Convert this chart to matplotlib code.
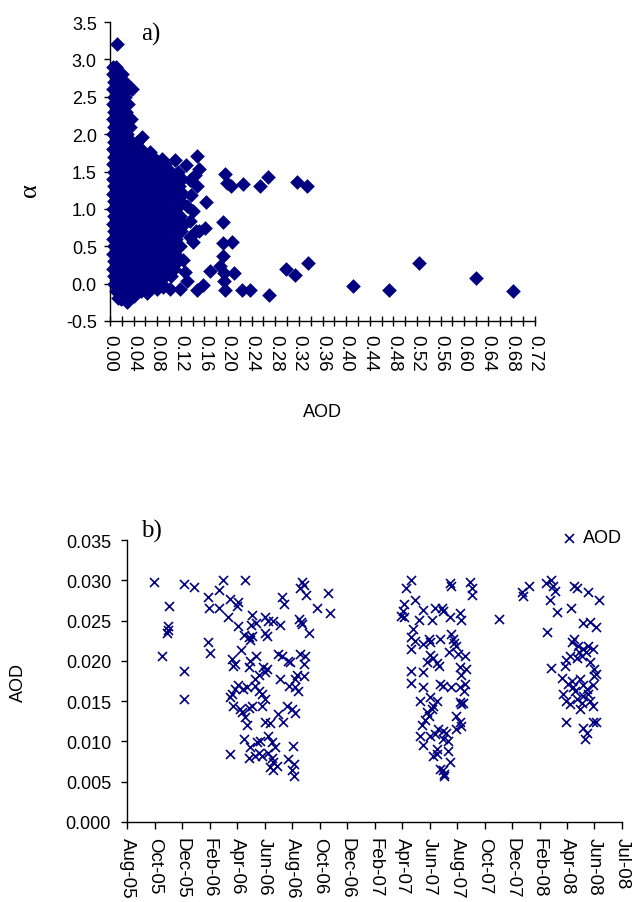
import numpy as np
import pandas as pd
import matplotlib
matplotlib.use("Agg")
import matplotlib.pyplot as plt
import matplotlib.dates as mdates
from matplotlib.ticker import MultipleLocator, FormatStrFormatter

NAVY = "#000080"
plt.rcParams["font.family"] = ["Liberation Sans", "DejaVu Sans"]

# ---------------- a) alpha vs AOD ----------------
# dichter Kern: pro alpha-Stufe die abgelesenen AOD-Werte
core_alpha = [2.9, 2.8, 2.7, 2.6, 2.5, 2.4, 2.3, 2.2, 2.1, 2.0, 1.9, 1.8, 1.7,
              1.6, 1.5, 1.4, 1.3, 1.2, 1.1, 1.0, 0.9, 0.8, 0.7, 0.6, 0.5, 0.4,
              0.3, 0.2, 0.1, 0.0, -0.1, -0.2]
core_aod = [
    [0.005, 0.010],
    [0.005, 0.013, 0.021],
    [0.006, 0.016, 0.026],
    [0.005, 0.013, 0.022, 0.031, 0.037],
    [0.006, 0.016, 0.026],
    [0.005, 0.013, 0.022, 0.031],
    [0.006, 0.016, 0.027],
    [0.005, 0.013, 0.022, 0.031, 0.036],
    [0.006, 0.016, 0.026, 0.034],
    [0.005, 0.013, 0.022, 0.029],
    [0.006, 0.016, 0.027, 0.038, 0.046],
    [0.005, 0.013, 0.022, 0.031, 0.041, 0.052],
    [0.006, 0.016, 0.027, 0.038, 0.049, 0.060, 0.072],
    [0.005, 0.013, 0.022, 0.031, 0.041, 0.052, 0.063, 0.074, 0.084, 0.094],
    [0.006, 0.016, 0.027, 0.038, 0.049, 0.060, 0.071, 0.082, 0.093, 0.104, 0.116],
    [0.005, 0.013, 0.022, 0.031, 0.041, 0.052, 0.063, 0.074, 0.085, 0.096, 0.108, 0.122],
    [0.006, 0.016, 0.027, 0.038, 0.049, 0.060, 0.071, 0.082, 0.093, 0.104, 0.117],
    [0.005, 0.013, 0.022, 0.031, 0.041, 0.052, 0.063, 0.074, 0.085, 0.096, 0.110, 0.124],
    [0.006, 0.016, 0.027, 0.038, 0.049, 0.060, 0.071, 0.082, 0.093, 0.106, 0.119],
    [0.005, 0.013, 0.022, 0.031, 0.041, 0.052, 0.063, 0.074, 0.085, 0.096, 0.112],
    [0.006, 0.016, 0.027, 0.038, 0.049, 0.060, 0.071, 0.082, 0.093, 0.104, 0.118],
    [0.005, 0.013, 0.022, 0.031, 0.041, 0.052, 0.063, 0.074, 0.085, 0.097, 0.110, 0.125],
    [0.006, 0.016, 0.027, 0.038, 0.049, 0.060, 0.071, 0.082, 0.093, 0.106, 0.121],
    [0.005, 0.013, 0.022, 0.031, 0.041, 0.052, 0.063, 0.074, 0.085, 0.097, 0.112],
    [0.006, 0.016, 0.027, 0.038, 0.049, 0.060, 0.071, 0.082, 0.093, 0.105, 0.118],
    [0.005, 0.013, 0.022, 0.031, 0.041, 0.052, 0.063, 0.074, 0.085, 0.097, 0.110],
    [0.006, 0.016, 0.027, 0.038, 0.049, 0.060, 0.071, 0.082, 0.093, 0.105, 0.115],
    [0.005, 0.013, 0.022, 0.031, 0.041, 0.052, 0.063, 0.074, 0.085, 0.097, 0.108],
    [0.006, 0.016, 0.027, 0.038, 0.049, 0.060, 0.071, 0.082, 0.094, 0.104],
    [0.007, 0.015, 0.024, 0.034, 0.045, 0.056, 0.067, 0.078, 0.088],
    [0.010, 0.020, 0.031, 0.042, 0.053],
    [0.018, 0.028],
]

# Einzelpunkte am Rand und Ausreisser
edge_aod = [0.012, 0.054, 0.068, 0.088, 0.110, 0.129, 0.147, 0.150, 0.144,
            0.195, 0.198, 0.205, 0.226, 0.254, 0.267, 0.316, 0.333, 0.163,
            0.141, 0.192, 0.161, 0.150, 0.191, 0.206, 0.140, 0.191, 0.186,
            0.193, 0.210, 0.169, 0.193, 0.195, 0.223, 0.238, 0.270, 0.130,
            0.148, 0.157, 0.119, 0.102, 0.298, 0.314, 0.335, 0.411, 0.473,
            0.523, 0.620, 0.683, 0.136, 0.147, 0.138, 0.130, 0.136, 0.146,
            0.136, 0.124, 0.127, 0.014, 0.028, 0.040, 0.062, 0.080, 0.090]
edge_alpha = [3.20, 1.96, 1.76, 1.67, 1.65, 1.59, 1.71, 1.53, 1.45,
              1.47, 1.35, 1.31, 1.33, 1.30, 1.43, 1.36, 1.30, 1.09,
              0.97, 0.83, 0.75, 0.71, 0.54, 0.56, 0.56, 0.37, 0.24,
              0.14, 0.14, 0.17, 0.03, -0.08, -0.08, -0.08, -0.15, 0.04,
              -0.08, -0.02, -0.07, -0.07, 0.20, 0.12, 0.27, -0.03, -0.08,
              0.27, 0.07, -0.10, 1.38, 1.30, 1.18, 1.04, 0.84, 0.71,
              0.62, 0.31, 0.15, -0.19, -0.24, -0.16, -0.12, -0.07, -0.05]

# ---------------- b) AOD Zeitreihe ----------------
obs_dates = [
    # 2005
    "2005-09-29", "2005-10-17", "2005-11-01", "2005-10-29", "2005-10-30",
    "2005-10-27", "2005-12-04", "2005-12-26", "2005-12-04", "2005-12-04",
    "2006-01-25", "2006-01-27", "2006-01-25", "2006-01-28",
    # 2006
    "2006-02-27", "2006-04-15", "2006-02-18", "2006-03-14", "2006-03-30",
    "2006-03-28", "2006-02-18", "2006-03-10", "2006-03-30", "2006-05-01",
    "2006-05-09", "2006-04-29", "2006-05-29", "2006-06-05", "2006-06-16",
    "2006-07-01", "2006-04-14", "2006-04-23", "2006-04-30", "2006-04-26",
    "2006-05-28", "2006-06-02", "2006-07-04", "2006-07-10", "2006-08-17",
    "2006-08-13", "2006-08-21", "2006-08-26", "2006-09-19", "2006-10-14",
    "2006-10-18", "2006-08-10", "2006-08-16", "2006-08-18", "2006-09-01",
    "2006-04-07", "2006-03-17", "2006-03-25", "2006-03-21", "2006-04-26",
    "2006-05-09", "2006-04-23", "2006-05-25", "2006-06-02", "2006-05-29",
    "2006-05-15", "2006-05-07", "2006-06-27", "2006-07-04", "2006-07-19",
    "2006-07-23", "2006-08-13", "2006-08-24", "2006-08-21", "2006-07-01",
    "2006-08-06", "2006-08-02", "2006-08-21", "2006-07-20", "2006-08-02",
    "2006-08-08", "2006-04-01", "2006-03-25", "2006-03-17", "2006-03-14",
    "2006-04-19", "2006-04-10", "2006-05-07", "2006-05-15", "2006-05-22",
    "2006-05-29", "2006-03-21", "2006-04-05", "2006-04-08", "2006-04-23",
    "2006-05-01", "2006-05-22", "2006-04-15", "2006-04-19", "2006-05-29",
    "2006-06-09", "2006-06-27", "2006-07-08", "2006-07-15", "2006-07-26",
    "2006-08-02", "2006-04-12", "2006-04-26", "2006-05-11", "2006-05-18",
    "2006-05-15", "2006-04-23", "2006-05-07", "2006-06-05", "2006-06-13",
    "2006-06-20", "2006-06-05", "2006-06-13", "2006-06-16", "2006-06-09",
    "2006-06-16", "2006-06-23", "2006-03-14", "2006-07-28", "2006-07-19",
    "2006-07-30", "2006-07-26", "2006-07-30", "2006-05-22",
    # 2007
    "2007-04-11", "2007-04-02", "2007-07-06", "2007-07-09", "2007-08-18",
    "2007-08-22", "2007-08-24", "2007-04-20", "2007-03-28", "2007-03-25",
    "2007-03-21", "2007-03-28", "2007-05-09", "2007-04-30", "2007-05-27",
    "2007-06-03", "2007-06-18", "2007-06-21", "2007-07-06", "2007-07-28",
    "2007-07-29", "2007-04-17", "2007-04-13", "2007-04-20", "2007-04-11",
    "2007-05-09", "2007-05-22", "2007-05-23", "2007-06-15", "2007-07-09",
    "2007-07-12", "2007-07-14", "2007-07-04", "2007-07-20", "2007-07-24",
    "2007-08-07", "2007-05-23", "2007-05-29", "2007-05-16", "2007-06-07",
    "2007-06-12", "2007-04-13", "2007-05-09", "2007-07-28", "2007-08-11",
    "2007-07-31", "2007-04-13", "2007-05-09", "2007-06-14", "2007-06-21",
    "2007-07-09", "2007-07-28", "2007-08-07", "2007-08-05", "2007-05-01",
    "2007-05-23", "2007-06-07", "2007-05-30", "2007-05-27", "2007-07-28",
    "2007-08-04", "2007-07-31", "2007-05-16", "2007-05-22", "2007-05-12",
    "2007-05-05", "2007-07-20", "2007-07-28", "2007-07-31", "2007-07-20",
    "2007-06-10", "2007-06-20", "2007-06-27", "2007-05-01", "2007-05-23",
    "2007-06-03", "2007-06-21", "2007-07-02", "2007-05-09", "2007-06-07",
    "2007-05-30", "2007-06-07", "2007-07-02", "2007-07-06", "2007-06-14",
    "2007-06-21", "2007-06-22", "2007-06-24",
    "2007-10-21", "2007-12-09", "2007-12-13", "2007-12-26",
    # 2008
    "2008-02-01", "2008-02-12", "2008-02-15", "2008-02-21", "2008-04-01",
    "2008-04-07", "2008-05-02", "2008-05-26", "2008-02-09", "2008-02-25",
    "2008-03-25", "2008-02-03", "2008-04-20", "2008-05-06", "2008-05-19",
    "2008-04-01", "2008-04-11", "2008-04-21", "2008-05-02", "2008-05-13",
    "2008-04-18", "2008-04-07", "2008-03-23", "2008-03-16", "2008-03-12",
    "2008-02-12", "2008-05-06", "2008-05-15", "2008-05-20", "2008-03-07",
    "2008-03-19", "2008-03-31", "2008-04-14", "2008-04-21", "2008-04-30",
    "2008-05-13", "2008-03-09", "2008-03-16", "2008-03-23", "2008-04-07",
    "2008-04-21", "2008-05-02", "2008-05-06", "2008-05-13", "2008-04-14",
    "2008-03-16", "2008-04-20", "2008-04-29", "2008-04-25", "2008-05-13",
    "2008-05-20", "2008-03-28", "2008-04-12", "2008-04-27", "2008-05-16",
    "2008-03-28", "2008-04-04", "2008-04-18",
]
obs_aod = [
    # 2005
    0.0298, 0.0206, 0.0268, 0.0243, 0.0238,
    0.0235, 0.0295, 0.0292, 0.0187, 0.0153,
    0.0279, 0.0266, 0.0224, 0.0210,
    # 2006
    0.0300, 0.0300, 0.0288, 0.0277, 0.0273,
    0.0268, 0.0265, 0.0254, 0.0243, 0.0257,
    0.0247, 0.0244, 0.0254, 0.0250, 0.0250,
    0.0244, 0.0232, 0.0229, 0.0231, 0.0226,
    0.0235, 0.0231, 0.0279, 0.0271, 0.0298,
    0.0291, 0.0294, 0.0282, 0.0265, 0.0284,
    0.0259, 0.0252, 0.0248, 0.0246, 0.0235,
    0.0213, 0.0202, 0.0196, 0.0193, 0.0200,
    0.0206, 0.0192, 0.0192, 0.0190, 0.0186,
    0.0182, 0.0177, 0.0208, 0.0206, 0.0200,
    0.0198, 0.0208, 0.0206, 0.0196, 0.0177,
    0.0182, 0.0177, 0.0181, 0.0169, 0.0167,
    0.0162, 0.0170, 0.0165, 0.0159, 0.0155,
    0.0168, 0.0165, 0.0169, 0.0163, 0.0159,
    0.0153, 0.0144, 0.0140, 0.0136, 0.0142,
    0.0144, 0.0144, 0.0130, 0.0121, 0.0124,
    0.0123, 0.0134, 0.0124, 0.0144, 0.0140,
    0.0135, 0.0103, 0.0093, 0.0099, 0.0101,
    0.0086, 0.0080, 0.0082, 0.0107, 0.0099,
    0.0093, 0.0086, 0.0080, 0.0074, 0.0068,
    0.0064, 0.0070, 0.0085, 0.0094, 0.0078,
    0.0072, 0.0064, 0.0057, 0.0082,
    # 2007
    0.0300, 0.0290, 0.0297, 0.0293, 0.0298,
    0.0291, 0.0282, 0.0275, 0.0271, 0.0262,
    0.0256, 0.0254, 0.0263, 0.0251, 0.0251,
    0.0265, 0.0266, 0.0262, 0.0254, 0.0259,
    0.0251, 0.0240, 0.0229, 0.0225, 0.0215,
    0.0221, 0.0227, 0.0224, 0.0227, 0.0233,
    0.0227, 0.0222, 0.0211, 0.0218, 0.0208,
    0.0206, 0.0207, 0.0203, 0.0199, 0.0197,
    0.0194, 0.0188, 0.0186, 0.0192, 0.0190,
    0.0182, 0.0173, 0.0167, 0.0171, 0.0169,
    0.0167, 0.0167, 0.0171, 0.0162, 0.0150,
    0.0155, 0.0150, 0.0144, 0.0140, 0.0149,
    0.0148, 0.0146, 0.0136, 0.0131, 0.0126,
    0.0121, 0.0132, 0.0124, 0.0119, 0.0115,
    0.0115, 0.0113, 0.0111, 0.0107, 0.0107,
    0.0109, 0.0103, 0.0101, 0.0095, 0.0090,
    0.0082, 0.0084, 0.0088, 0.0074, 0.0066,
    0.0064, 0.0057, 0.0059,
    0.0252, 0.0285, 0.0280, 0.0293,
    # 2008
    0.0297, 0.0300, 0.0293, 0.0287, 0.0293,
    0.0290, 0.0286, 0.0275, 0.0275, 0.0261,
    0.0265, 0.0236, 0.0247, 0.0248, 0.0242,
    0.0227, 0.0219, 0.0215, 0.0218, 0.0215,
    0.0206, 0.0203, 0.0206, 0.0201, 0.0194,
    0.0191, 0.0199, 0.0190, 0.0184, 0.0179,
    0.0171, 0.0168, 0.0177, 0.0170, 0.0165,
    0.0170, 0.0159, 0.0150, 0.0146, 0.0153,
    0.0157, 0.0159, 0.0150, 0.0144, 0.0140,
    0.0124, 0.0117, 0.0111, 0.0103, 0.0124,
    0.0124, 0.0223, 0.0211, 0.0211, 0.0181,
    0.0175, 0.0163, 0.0148,
]

date_tick_labels = ["Aug-05", "Oct-05", "Dec-05", "Feb-06", "Apr-06", "Jun-06",
                    "Aug-06", "Oct-06", "Dec-06", "Feb-07", "Apr-07", "Jun-07",
                    "Aug-07", "Oct-07", "Dec-07", "Feb-08", "Apr-08", "Jun-08",
                    "Jul-08"]
date_start = "2005-08-01"
date_end = "2008-07-15"

# Kern aufloesen
a_x = []
a_y = []
for alpha, row in zip(core_alpha, core_aod):
    a_x.extend(row)
    a_y.extend([alpha] * len(row))
a_x.extend(edge_aod)
a_y.extend(edge_alpha)

W, H = 633, 903
fig = plt.figure(figsize=(W / 100, H / 100), dpi=100)


def style_axes(ax):
    for side in ["top", "right"]:
        ax.spines[side].set_visible(False)
    for side in ["left", "bottom"]:
        ax.spines[side].set_color("black")
        ax.spines[side].set_linewidth(1.0)


# Plot a)
ax1 = fig.add_axes([110 / W, 1 - 322 / H, 425 / W, 299 / H])
ax1.scatter(a_x, a_y, marker="D", s=56, color=NAVY, linewidths=0,
            clip_on=False, zorder=3)
ax1.set_xlim(0, 0.72)
ax1.set_ylim(-0.5, 3.5)
ax1.xaxis.set_major_locator(MultipleLocator(0.04))
ax1.xaxis.set_minor_locator(MultipleLocator(0.02))
ax1.xaxis.set_major_formatter(FormatStrFormatter("%.2f"))
ax1.yaxis.set_major_locator(MultipleLocator(0.5))
ax1.yaxis.set_major_formatter(FormatStrFormatter("%.1f"))
ax1.tick_params(axis="x", which="both", direction="inout", length=7,
                width=1, labelsize=13.5, pad=6, labelrotation=-90)
ax1.tick_params(axis="y", direction="out", length=4.5, width=1,
                labelsize=13, pad=5)
style_axes(ax1)

fig.text(141 / W, 1 - 41 / H, "a)", family=["Liberation Serif", "DejaVu Serif"],
         fontsize=18, ha="left", va="baseline")
fig.text(30 / W, 1 - 190 / H, "α", family=["Liberation Serif", "DejaVu Serif"],
         fontsize=19, rotation=90, ha="center", va="center")
fig.text(322 / W, 1 - 413 / H, "AOD", fontsize=13, ha="center", va="center")

# Plot b)
ax2 = fig.add_axes([127 / W, 80 / H, 495 / W, 282 / H])
b_dates = mdates.date2num(pd.to_datetime(obs_dates))
ax2.scatter(b_dates, obs_aod, marker="x", s=42, color=NAVY, linewidths=1.2,
            label="AOD", zorder=3)
x_lo = mdates.date2num(pd.Timestamp(date_start))
x_hi = mdates.date2num(pd.Timestamp(date_end))
ax2.set_xlim(x_lo, x_hi)
ax2.set_xticks(np.linspace(x_lo, x_hi, len(date_tick_labels)))
ax2.set_xticklabels(date_tick_labels)
ax2.set_ylim(0, 0.035)
ax2.yaxis.set_major_locator(MultipleLocator(0.005))
ax2.yaxis.set_major_formatter(FormatStrFormatter("%.3f"))
ax2.tick_params(axis="x", direction="out", length=5, width=1, labelsize=13.5,
                pad=6, labelrotation=-90)
ax2.tick_params(axis="y", direction="out", length=4.5, width=1,
                labelsize=13, pad=7)
style_axes(ax2)

ax2.legend(loc="center right", bbox_to_anchor=(622 / W, 1 - 539 / H),
           bbox_transform=fig.transFigure, frameon=False, fontsize=13,
           handlelength=0.8, handletextpad=0.4, borderpad=0,
           borderaxespad=0)

fig.text(141 / W, 1 - 538 / H, "b)", family=["Liberation Serif", "DejaVu Serif"],
         fontsize=18, ha="left", va="baseline")
fig.text(18 / W, 1 - 682 / H, "AOD", fontsize=13, rotation=90,
         ha="center", va="center")

fig.savefig("out.png", dpi=100)
